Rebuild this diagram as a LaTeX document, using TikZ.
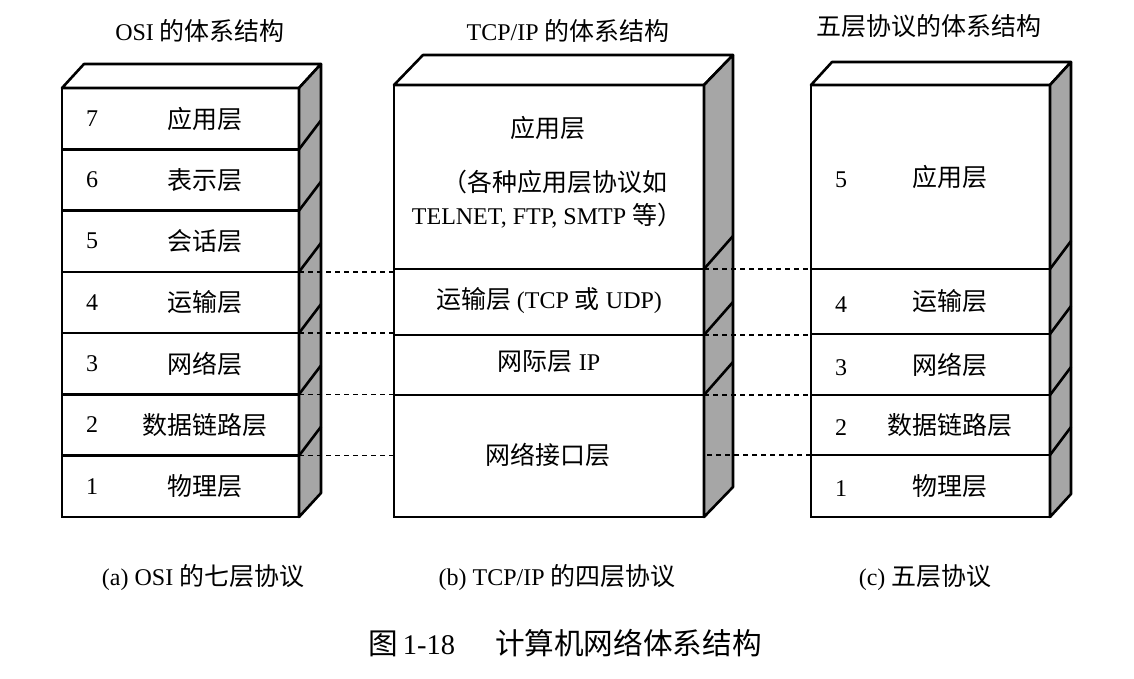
\documentclass[tikz,border=0pt]{standalone}
\usepackage{fontspec}
\setmainfont{Liberation Serif}
\newfontfamily\cjk{Noto Sans CJK SC}[Scale=1.04]
\newcommand\zh[1]{{\cjk #1}}
\usetikzlibrary{calc}
\begin{document}
\begin{tikzpicture}[x=1pt,y=-1pt,
  every node/.style={font=\fontsize{24}{28}\selectfont, inner sep=0pt, outer sep=0pt},
  edge/.style={line width=2.6pt, line join=round},
  sideface/.style={edge, fill=black!35},
  topface/.style={edge, fill=white},
  layer/.style={draw, line width=2.6pt, anchor=north west, inner sep=0pt, outer sep=0pt, minimum width=#1},
  link/.style={line width=1.4pt, dash pattern=on 5pt off 4pt},
]
\useasboundingbox (0,0) rectangle (1134,679);

% ---------- OSI box ----------
\draw[topface] (62,88) -- ++(22,-24) -- (321,64) -- (299,88) -- cycle;
\draw[sideface] (299,88) -- (321,64) -- (321,493) -- (299,517) -- cycle;
\foreach \y in {149.3,210.6,271.9,333.1,394.4,455.7}
  \draw[edge] (299,\y) -- ++(22,-29);
% ---------- TCP/IP box ----------
\draw[topface] (394,85) -- ++(29,-30) -- (733,55) -- (704,85) -- cycle;
\draw[sideface] (704,85) -- (733,55) -- (733,487) -- (704,517) -- cycle;
\foreach \y in {269,335,395}
  \draw[edge] (704,\y) -- ++(29,-33);
% ---------- five-layer box ----------
\draw[topface] (811,85) -- ++(21,-23) -- (1071,62) -- (1050,85) -- cycle;
\draw[sideface] (1050,85) -- (1071,62) -- (1071,494) -- (1050,517) -- cycle;
\foreach \y in {269,334,395,455}
  \draw[edge] (1050,\y) -- ++(21,-28);

% ---------- layers ----------
\node[layer=237pt, minimum height=61.3pt] (osi7) at (62,88) {};
\node[layer=237pt, minimum height=61.3pt] (osi6) at (62,149.3) {};
\node[layer=237pt, minimum height=61.3pt] (osi5) at (62,210.6) {};
\node[layer=237pt, minimum height=61.2pt] (osi4) at (62,271.9) {};
\node[layer=237pt, minimum height=61.3pt] (osi3) at (62,333.1) {};
\node[layer=237pt, minimum height=61.3pt] (osi2) at (62,394.4) {};
\node[layer=237pt, minimum height=61.3pt] (osi1) at (62,455.7) {};

\node[layer=310pt, minimum height=184pt] (tcp4) at (394,85) {};
\node[layer=310pt, minimum height=66pt] (tcp3) at (394,269) {};
\node[layer=310pt, minimum height=60pt] (tcp2) at (394,335) {};
\node[layer=310pt, minimum height=122pt] (tcp1) at (394,395) {};

\node[layer=239pt, minimum height=184pt] (five5) at (811,85) {};
\node[layer=239pt, minimum height=65pt] (five4) at (811,269) {};
\node[layer=239pt, minimum height=61pt] (five3) at (811,334) {};
\node[layer=239pt, minimum height=60pt] (five2) at (811,395) {};
\node[layer=239pt, minimum height=62pt] (five1) at (811,455) {};

% ---------- dashed correspondences ----------
\draw[link] (osi4.north east) -- (osi4.north east -| tcp3.west);
\draw[link] (osi3.north east) -- (osi3.north east -| tcp2.west);
\draw[link] (osi2.north east) -- (osi2.north east -| tcp1.west);
\draw[link] (osi1.north east) -- (osi1.north east -| tcp1.west);
\draw[link] (tcp3.north east) -- (tcp3.north east -| five4.west);
\draw[link] (tcp2.north east) -- (tcp2.north east -| five3.west);
\draw[link] (tcp1.north east) -- (tcp1.north east -| five2.west);
\draw[link] (five1.north west) -- (five1.north west -| tcp1.east);

% ---------- OSI labels ----------
\foreach \n/\t in {7/应用层,6/表示层,5/会话层,4/运输层,3/网络层,2/数据链路层,1/物理层}{
  \node (osin\n) at ([xshift=30pt]osi\n.west) {\n};
  \node (osit\n) at ([xshift=143pt]osi\n.west) {\zh{\t}};
}
% ---------- TCP/IP labels ----------
\node (tcpa) at (548,128) {\zh{应用层}};
\node (tcpb) at (555,182) {\zh{（各种应用层协议如}};
\node (tcpc) at (547,216) {TELNET, FTP, SMTP \zh{等）}};
\node (tcp3t) at ([yshift=1pt]tcp3.center) {\zh{运输层} (TCP \zh{或} UDP)};
\node (tcp2t) at ([yshift=3pt]tcp2.center) {\zh{网际层} IP};
\node (tcp1t) at (548,455) {\zh{网络接口层}};
% ---------- five-layer labels ----------
\foreach \n/\t in {5/应用层,4/运输层,3/网络层,2/数据链路层,1/物理层}{
  \node (fiven\n) at ([xshift=30pt,yshift=-3pt]five\n.west) {\n};
  \node (fivet\n) at ([xshift=139pt]five\n.west) {\zh{\t}};
}

% ---------- titles and captions ----------
\node (title1) at (200,31) {OSI \zh{的体系结构}};
\node (title2) at (568,31) {TCP/IP \zh{的体系结构}};
\node (title3) at (929,26) {\zh{五层协议的体系结构}};
\node (cap1) at (203,578) {(a) OSI \zh{的七层协议}};
\node (cap2) at (557,578) {(b) TCP/IP \zh{的四层协议}};
\node (cap3) at (925,578) {(c)\ \zh{五层协议}};
\node[font=\fontsize{28.5}{32}\selectfont] (cap4) at (565,643) {\zh{图}\hspace{5pt}1-18\hspace{40pt}\zh{计算机网络体系结构}};
\end{tikzpicture}
\end{document}
